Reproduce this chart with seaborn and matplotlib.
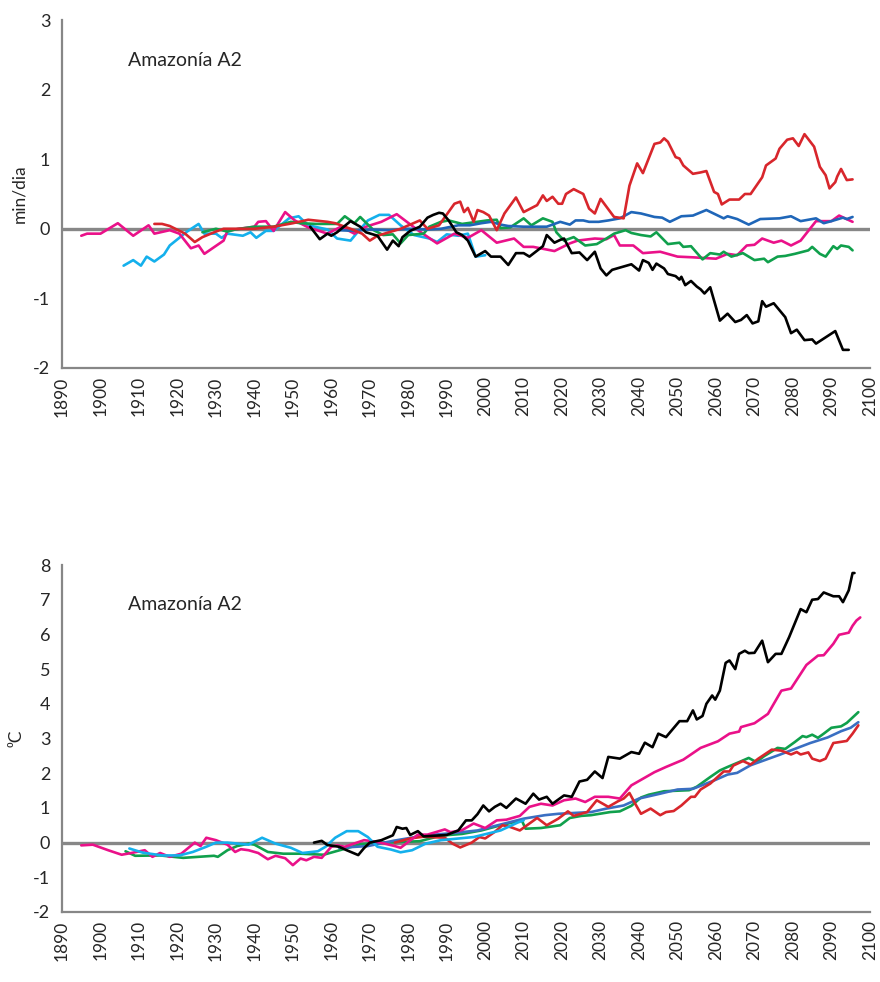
import pandas as pd
import matplotlib
matplotlib.use("Agg")
import matplotlib.pyplot as plt
import seaborn as sns

# colours of the model runs
RED = "#D8262C"
BLUE_TOP = "#1F66B8"
BLUE_BOT = "#3A6FC2"
GREEN = "#10A04C"
PINK = "#EA1189"
CYAN = "#14B0EC"
BLACK = "#000000"

# ---- top panel: min/dia ----
top_pink_x = [1895, 1896.5, 1900, 1904.5, 1908.5, 1912.5, 1914, 1918, 1920.5, 1923.5, 1925.5, 1927,
              1932, 1933, 1936, 1940, 1941, 1943, 1945, 1948, 1950.5, 1954, 1959, 1962.5, 1966, 1969,
              1973, 1977, 1982.5, 1987.5, 1992, 1995.5, 1999, 2003, 2007.5, 2010, 2012.5, 2018, 2022,
              2024, 2028.5, 2031.5, 2033.5, 2035, 2038.5, 2041, 2045.5, 2050, 2054, 2060, 2063, 2065.5,
              2068, 2070, 2072, 2075, 2077, 2079.5, 2082, 2086, 2090, 2092, 2095.5]
top_pink_y = [-0.1, -0.07, -0.07, 0.08, -0.1, 0.05, -0.07, -0.02, -0.07, -0.28, -0.24, -0.36,
              -0.17, -0.03, 0.0, 0.03, 0.1, 0.11, -0.03, 0.24, 0.12, 0.02, -0.07, 0.03, -0.07, 0.03,
              0.1, 0.21, -0.02, -0.21, -0.07, -0.13, -0.02, -0.2, -0.14, -0.26, -0.26, -0.32, -0.21,
              -0.17, -0.14, -0.15, -0.09, -0.24, -0.24, -0.35, -0.33, -0.4, -0.41, -0.43, -0.36, -0.38,
              -0.24, -0.23, -0.14, -0.2, -0.17, -0.24, -0.17, 0.11, 0.11, 0.19, 0.1]

top_red_x = [1914, 1916, 1918, 1922, 1924.5, 1926.5, 1930, 1932, 1940, 1945, 1950, 1954, 1959, 1961,
             1965, 1968, 1970, 1972, 1975, 1978, 1983, 1985, 1988, 1992, 1993.5, 1994.5, 1995.5, 1997,
             1998, 1999.5, 2001, 2003, 2005, 2008, 2010, 2013.5, 2015, 2016, 2017.5, 2019, 2020, 2021,
             2023, 2025.5, 2027, 2028.5, 2030, 2033.5, 2036, 2037.5, 2039.5, 2041, 2044, 2045.5, 2046.5,
             2047.5, 2049.5, 2050.5, 2051.5, 2054, 2056, 2057.5, 2059.5, 2060.5, 2061.5, 2063.5, 2066,
             2067.5, 2069, 2072, 2073, 2075.5, 2076.5, 2078.5, 2080, 2081.5, 2083, 2085.5, 2087, 2088.5,
             2089.5, 2091, 2091.5, 2092.5, 2094, 2095.5]
top_red_y = [0.07, 0.07, 0.04, -0.07, -0.19, -0.12, -0.04, 0.0, 0.0, 0.03, 0.08, 0.13, 0.1, 0.08,
             0.0, -0.07, -0.17, -0.1, -0.05, 0.0, 0.12, 0.0, 0.05, 0.36, 0.39, 0.24, 0.3, 0.1,
             0.27, 0.24, 0.19, -0.02, 0.22, 0.45, 0.24, 0.34, 0.48, 0.4, 0.46, 0.36, 0.36, 0.5,
             0.57, 0.5, 0.29, 0.22, 0.43, 0.17, 0.15, 0.62, 0.94, 0.8, 1.22, 1.24, 1.3,
             1.25, 1.03, 1.01, 0.91, 0.79, 0.81, 0.83, 0.53, 0.5, 0.35, 0.42, 0.42,
             0.5, 0.5, 0.74, 0.91, 1.01, 1.15, 1.28, 1.3, 1.19, 1.36, 1.18, 0.89, 0.77,
             0.58, 0.67, 0.75, 0.86, 0.7, 0.71]

top_blue_x = [1962, 1966, 1970, 1975, 1980, 1985, 1988.5, 1993, 1996, 1999, 2001.5, 2004, 2006, 2010,
              2013.5, 2016, 2019.5, 2022, 2023.5, 2025.5, 2027, 2029.5, 2032, 2035, 2038, 2040.5, 2044,
              2046, 2048, 2051, 2054, 2057.5, 2062, 2063, 2065.5, 2068.5, 2071.5, 2076.5, 2079.5, 2082,
              2086, 2088, 2090, 2093, 2094, 2095.5]
top_blue_y = [-0.02, -0.03, -0.01, -0.02, 0.0, -0.01, 0.0, 0.05, 0.05, 0.08, 0.1, 0.06, 0.04, 0.03,
              0.03, 0.03, 0.1, 0.06, 0.12, 0.12, 0.1, 0.1, 0.12, 0.15, 0.24, 0.22, 0.17,
              0.16, 0.1, 0.18, 0.19, 0.27, 0.15, 0.18, 0.14, 0.06, 0.14, 0.15, 0.18, 0.11,
              0.15, 0.08, 0.11, 0.16, 0.14, 0.17]

top_green_x = [1926.5, 1930, 1933, 1935, 1940, 1945, 1949.5, 1952, 1956, 1961.5, 1963.5, 1966, 1967.5,
               1971, 1973.5, 1976, 1978, 1980, 1984, 1985.5, 1988.5, 1990.5, 1994, 2000.5, 2003, 2004,
               2006.5, 2010, 2012, 2015, 2017.5, 2018.5, 2020.5, 2023, 2026, 2029, 2031.5, 2033.5,
               2036.5, 2038, 2040.5, 2043, 2044.5, 2047.5, 2050.5, 2051.5, 2053.5, 2056.5, 2058.5, 2061,
               2062, 2064, 2067, 2070, 2072.5, 2073.5, 2076, 2078, 2080.5, 2084, 2085, 2087, 2088.5,
               2090.5, 2091.5, 2092.5, 2094.5, 2095.5]
top_green_y = [-0.05, 0.0, -0.04, -0.01, 0.03, 0.03, 0.1, 0.08, 0.07, 0.07, 0.18, 0.08, 0.17,
               -0.02, -0.09, -0.08, -0.21, -0.09, -0.07, 0.03, 0.1, 0.12, 0.07, 0.12, 0.13, 0.01,
               0.02, 0.15, 0.05, 0.15, 0.1, -0.05, -0.17, -0.12, -0.24, -0.22, -0.14, -0.07,
               -0.02, -0.06, -0.09, -0.11, -0.05, -0.22, -0.2, -0.26, -0.25, -0.44, -0.35, -0.37,
               -0.33, -0.4, -0.35, -0.45, -0.43, -0.48, -0.4, -0.39, -0.36, -0.31, -0.26, -0.36, -0.4,
               -0.25, -0.29, -0.24, -0.26, -0.31]

top_black_x = [1954.5, 1957, 1959, 1960, 1961.5, 1965, 1967.5, 1969, 1972, 1974.5, 1976, 1977.5, 1978.5,
               1980.5, 1983, 1985, 1986.5, 1988, 1989, 1990.5, 1992.5, 1994, 1995.5, 1997.5, 2000,
               2001.5, 2004, 2006, 2008, 2010, 2011.5, 2015, 2016, 2018, 2019.5, 2020.5, 2022.5, 2024.5,
               2026.5, 2028.5, 2030, 2031.5, 2033, 2038, 2040, 2041, 2042.5, 2043.5, 2044.5, 2046.5,
               2047.5, 2049.5, 2050.5, 2051, 2052, 2053.5, 2055, 2056, 2057, 2058.5, 2061, 2063, 2065,
               2066.5, 2068, 2069.5, 2071, 2072, 2073, 2075, 2078, 2079.5, 2081, 2083, 2085, 2086,
               2091, 2093, 2094.5]
top_black_y = [0.03, -0.15, -0.07, -0.1, -0.05, 0.11, 0.03, -0.05, -0.1, -0.3, -0.17, -0.25, -0.12,
               -0.03, 0.03, 0.16, 0.2, 0.23, 0.22, 0.12, -0.05, -0.09, -0.17, -0.4, -0.32,
               -0.4, -0.4, -0.52, -0.35, -0.35, -0.4, -0.25, -0.09, -0.2, -0.16, -0.14, -0.35, -0.34,
               -0.45, -0.33, -0.57, -0.67, -0.59, -0.51, -0.6, -0.45, -0.49, -0.59, -0.5, -0.57,
               -0.65, -0.68, -0.73, -0.69, -0.81, -0.75, -0.83, -0.87, -0.93, -0.84, -1.32, -1.22, -1.34,
               -1.31, -1.24, -1.36, -1.33, -1.04, -1.12, -1.07, -1.27, -1.5, -1.45, -1.6, -1.59, -1.65,
               -1.47, -1.74, -1.74]

top_cyan_x = [1906, 1908.5, 1910.5, 1912, 1914, 1916.5, 1918, 1922.5, 1925.5, 1927, 1930, 1931.5, 1933,
              1937, 1939, 1940.5, 1943, 1945, 1949, 1951.5, 1954, 1959, 1961.5, 1965, 1966.5, 1969.5,
              1972.5, 1975, 1978, 1981.5, 1985.5, 1987.5, 1990, 1993, 1995.5, 1997.5, 2000]
top_cyan_y = [-0.53, -0.45, -0.53, -0.4, -0.47, -0.37, -0.24, -0.04, 0.07, -0.07, -0.07, -0.13, -0.07,
              -0.1, -0.05, -0.13, -0.03, -0.03, 0.15, 0.18, 0.05, -0.01, -0.14, -0.17, -0.07, 0.12,
              0.2, 0.2, 0.05, -0.09, -0.14, -0.19, -0.08, -0.1, -0.07, -0.4, -0.38]

# ---- bottom panel: temperature (0C) ----
bot_pink_x = [1895, 1898, 1902, 1905.5, 1908, 1911.5, 1913.5, 1915.5, 1918, 1921, 1924.5, 1926, 1927.5,
              1930, 1933, 1935, 1936.5, 1938.5, 1941, 1943.5, 1945.5, 1948, 1950, 1952, 1953.5, 1955.5,
              1957.5, 1960, 1961.5, 1963.5, 1968.5, 1972, 1976.5, 1978, 1982.5, 1985, 1989.5, 1991,
              1994, 1997, 2000, 2003, 2005.5, 2009, 2011.5, 2014.5, 2017.5, 2020.5, 2023.5, 2026,
              2028.5, 2032, 2035, 2038, 2041, 2044, 2047, 2051.5, 2056, 2060.5, 2063.5, 2066, 2066.5,
              2070, 2073.5, 2077, 2079.5, 2083.5, 2086.5, 2088, 2090.5, 2092, 2094.5, 2095.5, 2096.5,
              2097.5]
bot_pink_y = [-0.08, -0.06, -0.22, -0.35, -0.3, -0.22, -0.41, -0.3, -0.41, -0.32, 0.0, -0.1, 0.14,
              0.07, -0.06, -0.27, -0.19, -0.22, -0.3, -0.48, -0.38, -0.45, -0.65, -0.46, -0.51, -0.41,
              -0.44, -0.12, -0.08, -0.12, 0.07, 0.02, -0.1, -0.15, 0.23, 0.23, 0.38, 0.3,
              0.36, 0.55, 0.42, 0.64, 0.66, 0.77, 1.03, 1.12, 1.07, 1.22, 1.27, 1.17,
              1.32, 1.32, 1.27, 1.65, 1.84, 2.03, 2.18, 2.39, 2.73, 2.92, 3.14, 3.2, 3.33,
              3.44, 3.71, 4.38, 4.44, 5.12, 5.39, 5.4, 5.73, 5.99, 6.05, 6.25, 6.4,
              6.49]

bot_black_x = [1955.5, 1957.5, 1959, 1962, 1964, 1967, 1968.5, 1970, 1973, 1976, 1977, 1978.5, 1979.5,
               1980.5, 1982.5, 1984, 1987, 1990, 1993, 1995, 1996.5, 1998, 1999.5, 2001, 2002.5, 2004,
               2005.5, 2008, 2010.5, 2012.5, 2014, 2016, 2017.5, 2020.5, 2022.5, 2024.5, 2026.5, 2028.5,
               2030.5, 2032, 2035, 2038, 2040, 2041.5, 2043.5, 2045, 2047, 2050.5, 2052.5, 2054, 2055,
               2056.5, 2057.5, 2059, 2059.8, 2061, 2062.5, 2063.5, 2065, 2066, 2067.5, 2068.5, 2070,
               2072, 2073.5, 2075.5, 2077, 2079, 2082, 2083.5, 2085, 2086.5, 2088, 2090.5, 2092, 2093,
               2094.5, 2095.5, 2096]
bot_black_y = [0.0, 0.05, -0.07, -0.12, -0.22, -0.36, -0.16, 0.0, 0.07, 0.21, 0.45, 0.4, 0.42,
               0.22, 0.33, 0.18, 0.2, 0.22, 0.35, 0.64, 0.64, 0.82, 1.07, 0.9, 1.03, 1.12,
               1.0, 1.27, 1.12, 1.41, 1.24, 1.32, 1.12, 1.36, 1.32, 1.76, 1.81, 2.05,
               1.86, 2.47, 2.42, 2.61, 2.56, 2.88, 2.75, 3.14, 3.04, 3.5, 3.5, 3.81, 3.55,
               3.65, 4.0, 4.24, 4.12, 4.38, 5.18, 5.25, 5.0, 5.44, 5.53, 5.46, 5.47,
               5.82, 5.2, 5.44, 5.44, 5.92, 6.73, 6.64, 7.0, 7.02, 7.21, 7.1, 7.1, 6.93,
               7.27, 7.77, 7.77]

bot_green_x = [1906.5, 1909, 1915.5, 1921.5, 1925.5, 1929.5, 1930.5, 1933, 1935.5, 1938.5, 1940, 1943.5,
               1947.5, 1952, 1958, 1962.5, 1967.5, 1973, 1983, 1988.5, 1994, 1999, 2004, 2006, 2009.5,
               2010.5, 2014.5, 2019.5, 2022, 2025, 2027.5, 2032.5, 2035, 2038, 2040.5, 2042.5, 2046.5,
               2053, 2055, 2058.5, 2061, 2063, 2066, 2068.5, 2070.5, 2072.5, 2076, 2078, 2080.5, 2082.5,
               2083.5, 2085, 2086.5, 2088, 2090, 2092.5, 2094, 2097]
bot_green_y = [-0.25, -0.38, -0.37, -0.44, -0.41, -0.38, -0.41, -0.22, -0.1, -0.03, -0.06, -0.27,
               -0.32, -0.32, -0.35, -0.21, -0.05, 0.0, 0.04, 0.2, 0.25, 0.35, 0.5, 0.55, 0.64,
               0.4, 0.42, 0.5, 0.71, 0.77, 0.79, 0.88, 0.9, 1.06, 1.3, 1.38, 1.48,
               1.51, 1.61, 1.89, 2.08, 2.18, 2.32, 2.44, 2.32, 2.49, 2.73, 2.7, 2.9, 3.07,
               3.04, 3.11, 3.02, 3.14, 3.31, 3.35, 3.45, 3.76]

bot_blue_x = [1962, 1969.5, 1976, 1984, 1993, 1998, 2001.5, 2010, 2015.5, 2019, 2027.5, 2031.5, 2036,
              2040, 2045.5, 2050, 2054, 2059.5, 2063, 2065.5, 2069, 2073, 2076.5, 2080, 2084.5, 2089,
              2092.5, 2095, 2097]
bot_blue_y = [-0.15, -0.1, 0.05, 0.2, 0.29, 0.35, 0.45, 0.69, 0.79, 0.83, 0.88, 0.98, 1.07,
              1.27, 1.41, 1.53, 1.55, 1.79, 1.96, 2.01, 2.23, 2.39, 2.53, 2.68, 2.87, 3.03,
              3.21, 3.31, 3.47]

bot_red_x = [1976.5, 1980.5, 1984, 1989.5, 1991.5, 1993.5, 1996.5, 1998.5, 2000, 2002.5, 2004.5, 2006.5,
             2009, 2013.5, 2016, 2019, 2021.5, 2023, 2026.5, 2029, 2032, 2034.5, 2036, 2037.5, 2039,
             2040.5, 2043, 2045.5, 2047, 2049, 2051, 2053.5, 2054.5, 2056, 2058.5, 2062, 2063.5, 2064.5,
             2067, 2069, 2071, 2074.5, 2077, 2079.5, 2081, 2082, 2084, 2085, 2087, 2088.5, 2090.5, 2094,
             2095.5, 2097]
bot_red_y = [0.0, 0.12, 0.17, 0.14, -0.03, -0.14, 0.0, 0.16, 0.12, 0.31, 0.5, 0.45,
             0.35, 0.71, 0.5, 0.69, 0.9, 0.77, 0.88, 1.22, 1.03, 1.19, 1.27, 1.43, 1.12,
             0.83, 0.98, 0.79, 0.88, 0.91, 1.07, 1.32, 1.32, 1.53, 1.7, 2.05, 2.05, 2.22,
             2.35, 2.25, 2.42, 2.68, 2.65, 2.54, 2.61, 2.54, 2.6, 2.42, 2.35, 2.42, 2.87, 2.93,
             3.14, 3.38]

bot_cyan_x = [1907.5, 1911, 1916, 1920.5, 1924, 1927.5, 1930, 1933, 1938.5, 1942, 1945.5, 1949.5, 1952.5,
              1956.5, 1958.5, 1961, 1964, 1967, 1969.5, 1972, 1975.5, 1978, 1981, 1984.5, 1988.5, 1997,
              2004, 2008.5, 2010]
bot_cyan_y = [-0.17, -0.29, -0.37, -0.37, -0.27, -0.12, 0.0, 0.0, -0.06, 0.14, -0.03, -0.15, -0.3,
              -0.25, -0.12, 0.14, 0.33, 0.33, 0.16, -0.12, -0.2, -0.28, -0.22, -0.03, 0.07, 0.16,
              0.35, 0.58, 0.64]

years_ticks = list(range(1890, 2101, 10))
title = "Amazonía A2"

sns.set_style("white")
plt.rcParams["font.family"] = ["Lato", "DejaVu Sans"]
AXC = "#878787"

fig = plt.figure(figsize=(8.8, 9.82), dpi=100)
ax1 = fig.add_axes([0.0705, 0.6253, 0.918, 0.3543])
ax2 = fig.add_axes([0.0705, 0.0713, 0.918, 0.3533])


def draw(ax, series, ylim, yticks):
    ax.axhline(0, color=AXC, lw=2.4, zorder=1)
    for xs, ys, col in series:
        sns.lineplot(x=xs, y=ys, color=col, lw=1.9, ax=ax, sort=False, estimator=None, zorder=3)
    ax.set_xlim(1890, 2100)
    ax.set_ylim(*ylim)
    ax.set_xticks(years_ticks)
    ax.set_xticklabels([str(y) for y in years_ticks], rotation=90, fontsize=12.5)
    ax.set_yticks(yticks)
    ax.set_yticklabels([str(v) for v in yticks], fontsize=13)
    for s in ["top", "right"]:
        ax.spines[s].set_visible(False)
    for s in ["left", "bottom"]:
        ax.spines[s].set_color(AXC)
        ax.spines[s].set_linewidth(1.6)
    ax.tick_params(axis="x", direction="in", length=8, width=1.6, color=AXC, pad=6)
    ax.tick_params(axis="y", direction="inout", length=9, width=1.6, color=AXC, pad=4)
    ax.text(0.082, 0.885, title, transform=ax.transAxes, fontsize=14, va="center")


draw(ax1, [(top_cyan_x, top_cyan_y, CYAN), (top_pink_x, top_pink_y, PINK),
           (top_green_x, top_green_y, GREEN), (top_blue_x, top_blue_y, BLUE_TOP),
           (top_red_x, top_red_y, RED), (top_black_x, top_black_y, BLACK)],
     (-2, 3), [-2, -1, 0, 1, 2, 3])
ax1.set_ylabel("min/dia", fontsize=12.5, labelpad=4)

draw(ax2, [(bot_green_x, bot_green_y, GREEN), (bot_blue_x, bot_blue_y, BLUE_BOT),
           (bot_red_x, bot_red_y, RED), (bot_pink_x, bot_pink_y, PINK),
           (bot_cyan_x, bot_cyan_y, CYAN), (bot_black_x, bot_black_y, BLACK)],
     (-2, 8), list(range(-2, 9)))
ax2.set_ylabel("⁰C", fontsize=12.5, labelpad=6)

fig.savefig("out.png", dpi=100)
